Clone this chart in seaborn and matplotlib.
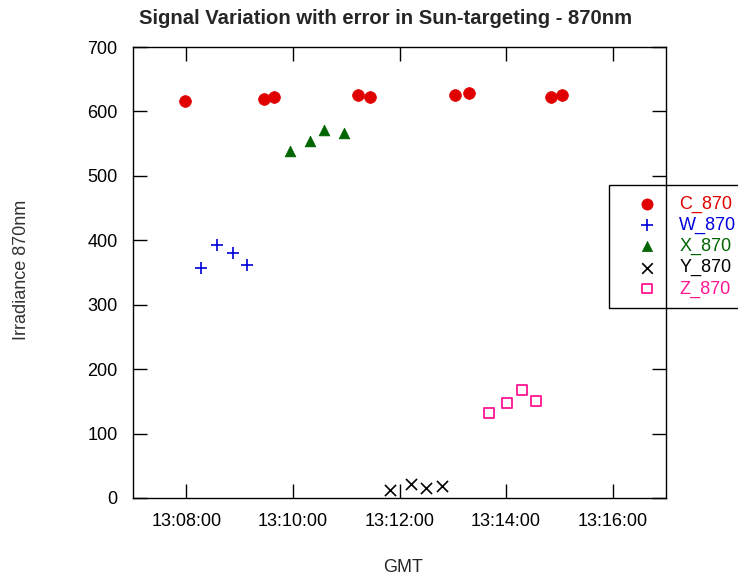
import matplotlib
matplotlib.use("Agg")
import matplotlib.pyplot as plt
import seaborn as sns
import pandas as pd
from matplotlib.ticker import FuncFormatter, FixedLocator

sns.set_theme(style="white")
plt.rcParams['font.family'] = ['Liberation Sans', 'DejaVu Sans']

# times as seconds after 13:00:00
c_t = [478, 568, 579, 673, 687, 782, 798, 891, 903]
c_v = [616, 619, 623, 626, 623, 626, 628, 623, 626]
w_t = [497, 515, 533, 548]
w_v = [357, 393, 381, 362]
x_t = [597, 619, 635, 657]
x_v = [539, 554, 571, 567]
y_t = [709, 733, 750, 768]
y_v = [13, 22, 15, 19]
z_t = [821, 841, 858, 874]
z_v = [132, 147, 168, 151]

series_names = ["C_870", "W_870", "X_870", "Y_870", "Z_870"]
series_t = [c_t, w_t, x_t, y_t, z_t]
series_v = [c_v, w_v, x_v, y_v, z_v]
colors = ["#e00000", "#0000dd", "#006400", "#000000", "#ff1493"]
markers = ["o", "+", "^", "x", "s"]
sizes = [72, 80, 60, 64, 50]

x_ticks = [480, 600, 720, 840, 960]
y_ticks = [0, 100, 200, 300, 400, 500, 600, 700]

fig = plt.figure(figsize=(7.38, 5.78), dpi=100)
ax = fig.add_axes([133/738, 1-498/578, (666-133)/738, (498-47)/578])

for name, t, v, col, mk, s in zip(series_names, series_t, series_v, colors, markers, sizes):
    df = pd.DataFrame({"t": t, "v": v})
    if mk == "s":
        sns.scatterplot(data=df, x="t", y="v", ax=ax, marker=mk, s=s,
                        facecolors="none", edgecolor=col, linewidth=1.3, label=name)
    elif mk in ("+", "x"):
        sns.scatterplot(data=df, x="t", y="v", ax=ax, marker=mk, s=s,
                        color=col, linewidth=1.2, label=name)
    else:
        sns.scatterplot(data=df, x="t", y="v", ax=ax, marker=mk, s=s,
                        color=col, edgecolor=col, linewidth=0.5, label=name)

ax.set_xlim(420, 1020)
ax.set_ylim(0, 700)
ax.xaxis.set_major_locator(FixedLocator(x_ticks))
ax.yaxis.set_major_locator(FixedLocator(y_ticks))

def fmt(val, pos):
    s = int(round(val))
    return "13:%02d:%02d" % (s // 60, s % 60)
ax.xaxis.set_major_formatter(FuncFormatter(fmt))

for sp in ax.spines.values():
    sp.set_color("black")
    sp.set_linewidth(1.0)
    sp.set_zorder(5)
ax.tick_params(direction="in", length=10, width=1, colors="black",
               top=True, right=True, bottom=True, left=True,
               labelsize=13)
ax.tick_params(axis="x", pad=10.5)
ax.tick_params(axis="y", pad=11)
ax.set_xlabel("")
ax.set_ylabel("")

fig.text(386/738, 1-18/578, "Signal Variation with error in Sun-targeting - 870nm",
         ha="center", va="center", fontsize=14.6, fontweight="bold")
fig.text(403/738, 1-567/578, "GMT", ha="center", va="center", fontsize=13)
fig.text(22/738, 1-270/578, "Irradiance 870nm", ha="center", va="center",
         fontsize=13, rotation=90, color="#333333")

leg = ax.legend(loc="upper left", bbox_to_anchor=(609/738, 1-185/578),
                bbox_transform=fig.transFigure, frameon=True, fancybox=False,
                edgecolor="black", fontsize=13, borderpad=0.6, labelspacing=0.22,
                handletextpad=0.3, handlelength=3.0, borderaxespad=0,
                markerscale=0.95, markerfirst=True)
leg.get_frame().set_linewidth(1.0)
leg.get_frame().set_alpha(1)
for txt, col in zip(leg.get_texts(), colors):
    txt.set_color(col)
leg.set_zorder(1)

fig.savefig("out.png", dpi=100)
